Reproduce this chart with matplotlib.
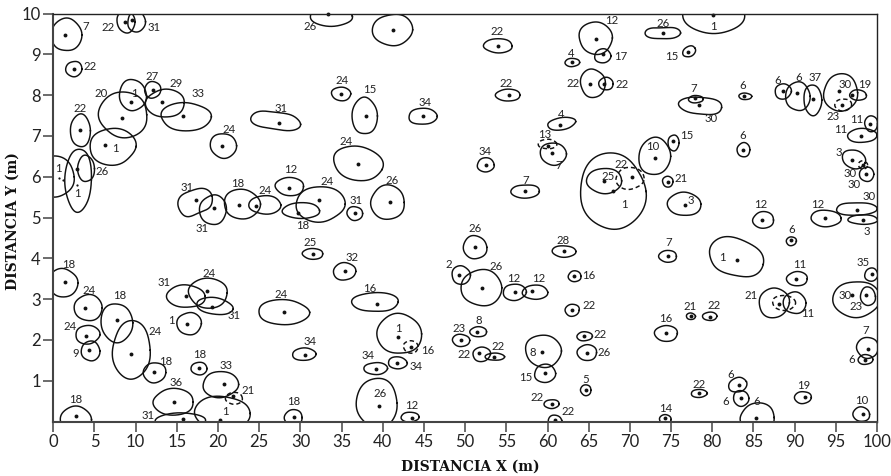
import numpy as np
import matplotlib
matplotlib.use("Agg")
import matplotlib.pyplot as plt

tree_label = ['7','22','31','22','1','20','27','29','33','22',
 '1','31','24','1','1','26','12','31','31','18',
 '24','24','18','31','26','24','15','24','34','',
 '26','22','4','22','22','22','4','13','7','34',
 '7','26','25','32','16','2','26','12','12','28',
 '16','22','1','16','34','34','34','26','12','18',
 '23','8','22','22','8','15','22','22','5','22',
 '26','18','24','24','9','18','24','18','31','24',
 '31','1','24','18','33','21','1','36','31','18',
 '12','17','26','1','15','7','30','6','6','6',
 '6','37','30','23','19','11','11','3','30','30',
 '30','3','12','12','6','3','21','10','15','1',
 '25','22','7','1','11','21','11','','35','30',
 '23','7','6','16','21','22','22','6','6','6',
 '19','10','14']
crown_x = [1.6,8.83,10.1,2.5,9.64,8.5,12.06,13.6,16.1,3.3,
 7.2,27,20.65,.2,3.04,3.97,28.7,17.2,19.4,22.9,
 25.7,32.4,30.1,36.6,40.6,37,37.8,34.95,44.86,41.2,
 33.7,54,63,55.2,65.5,67.1,61.7,60,60.7,52.5,
 57.3,51.2,31.5,35.35,39.1,49.5,52,56,58.5,62,
 63.3,63,42,43.4,30.45,39.15,41.8,39.3,43.3,29.15,
 49.5,51.6,52,53.6,59.5,59.7,60.5,60.9,64.65,64.5,
 64.8,1.2,4.25,4.17,4.53,7.7,9.5,12.3,16.1,18.8,
 19.6,16.5,27.95,17.7,20.3,21.95,20.5,14.6,15.4,2.75,
 65.85,66.7,74,80.1,77.2,78,78.6,84,83.8,88.6,
 90.4,92.2,95.6,95.9,97.7,99.3,98.2,97.2,98.3,98.75,
 97.5,98.3,93.8,86.2,89.6,76.6,74.6,73,75.3,67.9,
 66.9,70,74.6,82.9,90.3,87.5,90,88.7,99.3,97.5,
 98.9,98.85,98.6,74.4,77.4,79.7,78.4,83.1,83.5,85.5,
 91,98.1,74.3]
crown_y = [9.48,9.8,9.8,8.64,8.0,7.52,8.13,7.8,7.47,7.13,
 6.74,7.37,6.76,6.0,5.92,6.2,5.76,5.38,5.19,5.33,
 5.31,5.33,5.17,5.1,5.37,6.33,7.49,8.03,7.48,9.6,
 9.93,9.21,8.8,8.0,8.29,8.28,7.3,6.8,6.56,6.29,
 5.64,4.27,4.11,3.68,2.93,3.59,3.28,3.17,3.17,4.17,
 3.56,2.73,2.15,1.83,1.65,1.3,1.44,.45,.11,.1,
 1.99,2.2,1.65,1.59,1.73,1.18,.43,.03,.77,2.09,
 1.69,3.4,2.79,2.13,1.73,2.42,1.75,1.2,3.07,3.15,
 2.83,2.4,2.68,1.3,.91,.57,.2,.48,0,.05,
 9.4,8.96,9.52,10,9.07,7.9,7.74,7.97,6.66,8.09,
 7.97,7.88,8.06,7.76,8,7.3,7.01,6.43,6.29,6.06,
 5.21,4.95,4.98,4.94,4.42,5.33,5.88,6.5,6.83,5.64,
 5.9,5.96,4.05,4.03,3.5,2.91,2.91,2.91,3.6,3,
 3.07,1.81,1.52,2.16,2.58,2.58,.69,.9,.57,.1,
 .59,.18,.05]
crown_rx = [1.8,1.1,1.1,.97,1.6,3,1,2.3,3,1.25,
 2.8,2.95,1.6,2.4,1.6,1,1.75,2.2,1.6,2.15,
 2,3,2.2,.95,2.1,3,1.5,1.18,1.75,2.4,
 2.5,1.78,.9,1.45,1.5,.9,1.7,1.1,1.6,1.05,
 1.7,1.4,1.27,1.38,2.75,1.1,2.55,1.4,1.5,1.45,
 .8,.85,2.65,.9,1.45,1.4,1.12,2.55,1.1,1.05,
 1.05,1.05,1.05,1.15,2.2,1.3,.9,.8,.65,.95,
 1.15,1.75,1.75,1.45,1.1,1.95,2.35,1.35,2.3,2.4,
 2.25,1.45,3.05,1,2.15,1,3.4,2.5,3,1.85,
 2.05,1,2.1,3.7,.85,.9,2.55,.78,.8,.97,
 1.45,1.1,2.1,1,1,.8,1.8,1.4,.55,.9,
 2.45,1.75,1.85,1.3,.6,2,.65,1.95,.65,3.95,
 2.2,1.7,1.05,3.4,1.3,1.8,1.35,1.42,.8,2.8,
 .9,1.35,.9,1.35,.55,.9,.95,1.1,.95,2.1,
 1,1,.72]
crown_ry = [.41,.27,.25,.19,.39,.55,.2,.35,.35,.39,
 .45,.24,.3,.49,.78,.33,.22,.33,.37,.37,
 .22,.43,.2,.17,.41,.42,.46,.165,.19,.39,
 .25,.17,.1,.15,.35,.15,.15,.12,.27,.17,
 .16,.29,.13,.21,.23,.23,.43,.2,.18,.14,
 .13,.15,.5,.15,.15,.15,.15,.6,.12,.2,
 .15,.12,.18,.09,.39,.22,.11,.13,.13,.11,
 .2,.35,.31,.23,.25,.47,.7,.25,.28,.36,
 .2,.28,.31,.15,.32,.15,.42,.32,.22,.33,
 .39,.17,.16,.5,.12,.09,.22,.08,.17,.19,
 .36,.37,.45,.15,.13,.19,.17,.23,.1,.17,
 .16,.12,.2,.2,.11,.29,.13,.45,.2,.94,
 .3,.27,.15,.45,.17,.37,.27,.18,.16,.45,
 .23,.25,.12,.2,.08,.1,.1,.18,.19,.35,
 .15,.18,.12]
crown_tilt = {12:-8, 18:20, 26:-15, 81:-10, 95:30, 97:-5, 108:-20, 124:-15, 138:20, 37:8}
crown_waist = {12:.22, 18:.25, 93:.25, 29:.1, 111:.15, 97:.15, 41:.08, 124:.12, 45:.08}
crown_dashed = [38,54,86,104,109,122,128]
dot_x = [1.46,8.7,9.6,2.5,9.47,8.38,12.06,13.2,15.8,3.3,
 6.3,27.45,20.5,None,2.9,None,28.6,17.3,19.45,22.5,
 24.6,32.2,29.75,36.6,40.9,37,38,34.95,44.86,41.3,
 33.3,54,63,55.3,65.15,66.9,61.55,60,60.6,52.5,
 57.3,51.2,31.5,35.45,39.35,49.25,52,56,58.1,62,
 63.2,63,41.9,43.4,30.55,39.15,41.7,39.55,43.5,29.2,
 49.5,51.45,51.7,53.5,59.35,59.65,60.5,60.85,64.65,64.45,
 64.85,1.4,3.85,3.95,4.3,7.7,9.4,12.2,16.05,18.7,
 19.25,16.25,27.95,17.7,20.75,21.8,20.25,14.6,15.7,2.75,
 65.9,66.75,74,80.1,77.1,77.9,78.4,83.8,83.7,88.6,
 90.3,92.2,95.35,95.75,97,99.15,98.1,97,98.25,98.65,
 97.6,98.3,93.7,86.05,89.6,76.65,74.6,73,75.2,67.95,
 66.9,70.2,74.6,83,90.2,88.1,None,None,99.4,97,
 98.7,98.9,98.5,74.4,77.4,79.7,78.4,83.2,83.5,85.3,
 91.3,98.3,74.25]
dot_y = [9.48,9.79,9.83,8.64,7.84,7.45,8.13,7.84,7.49,7.15,
 6.77,7.31,6.76,None,6.19,None,5.72,5.42,5.23,5.31,
 5.29,5.42,5.12,5.1,5.39,6.31,7.48,8.03,7.48,9.6,
 9.98,9.21,8.8,8.0,8.28,8.28,7.28,6.76,6.58,6.29,
 5.64,4.27,4.11,3.68,2.88,3.6,3.28,3.17,3.19,4.17,
 3.56,2.73,2.07,1.83,1.64,1.3,1.44,.38,.1,.12,
 1.99,2.2,1.67,1.59,1.71,1.19,.43,.03,.77,2.09,
 1.69,3.41,2.79,2.1,1.75,2.5,1.65,1.22,3.07,3.2,
 2.8,2.39,2.69,1.31,.91,.62,.04,.49,.06,.13,
 9.38,9.0,9.52,9.97,9.05,7.93,7.75,7.97,6.66,8.11,
 8.04,7.91,8.11,7.76,8,7.29,6.99,6.41,6.29,6.06,
 5.19,4.93,5.0,4.95,4.45,5.3,5.88,6.46,6.87,5.66,
 5.9,5.99,4.07,3.97,3.5,2.87,None,None,3.61,3.09,
 3.1,1.78,1.52,2.17,2.58,2.56,.69,.9,.57,.09,
 .6,.18,.09]
extra_dot_x = [.65,1.2,2.83]
extra_dot_y = [5.96,5.92,5.8]
label_x = [3.97,6.6,12.2,4.5,9.8,5.8,12,14.9,17.6,3.24,
 7.5,27.6,21.3,.65,2.9,5.87,28.8,16.3,18.05,22.35,
 25.7,33.2,30.25,36.8,41.1,35.5,38.4,35.1,45.1,0,
 31.2,53.9,62.9,55,63.1,69.1,61.7,59.6,61.4,52.4,
 57.3,51.2,31.2,36.3,38.4,48,53.8,55.9,58.9,61.9,
 65,65,41.9,45.4,31.2,38.2,44,39.7,43.5,29.2,
 49.2,51.6,49.9,54,58.2,57.4,58.7,62.5,64.6,66.4,
 66.9,1.9,4.37,2.02,2.75,8,12.3,13.6,13.5,18.95,
 22,14.4,27.65,17.8,21,23.6,20.85,14.85,11.5,2.75,
 67.85,68.9,74,80.2,75.1,77.8,79.85,83.7,83.7,88,
 90.5,92.5,96.1,94.7,98.5,97.5,95.6,95.4,96.7,97.25,
 99,98.75,92.85,85.85,89.7,77.45,76.2,72.75,76.9,69.3,
 67.4,68.9,74.75,81.2,90.6,84.75,91.6,0,98.3,96.1,
 97.5,98.6,96.9,74.4,77.35,80.2,78.35,82.2,81.6,85.4,
 91.15,98.15,74.3]
label_y = [9.68,9.66,9.66,8.7,8.04,8.04,8.45,8.29,8.04,7.68,
 6.68,7.68,7.16,6.2,5.58,6.12,6.18,5.74,4.74,5.83,
 5.67,5.89,4.8,5.42,5.92,6.87,8.14,8.37,7.83,0,
 9.68,9.56,9.03,8.28,8.29,8.26,7.52,7.03,6.28,6.61,
 5.92,4.73,4.39,4.03,3.27,3.86,3.8,3.51,3.51,4.43,
 3.59,2.84,2.27,1.73,1.96,1.63,1.36,.68,.4,.49,
 2.29,2.48,1.65,1.84,1.69,1.08,.58,.24,1.02,2.13,
 1.69,3.86,3.21,2.32,1.66,3.08,2.22,1.47,3.41,3.63,
 2.6,2.48,3.12,1.65,1.37,.77,.24,.96,.16,.55,
 9.83,8.95,9.76,9.68,8.95,8.15,7.42,8.23,7.01,8.37,
 8.44,8.42,8.27,7.47,8.27,7.41,7.16,6.6,6.07,5.8,
 5.51,4.66,5.31,5.31,4.7,5.43,5.96,6.73,7.02,5.31,
 6,6.3,4.39,4.03,3.86,3.09,2.65,0,3.9,3.09,
 2.81,2.23,1.51,2.52,2.81,2.84,.92,1.15,.49,.49,
 .88,.52,.31]
x_ticks = list(range(0, 101, 5))
y_ticks = list(range(1, 11))
x_title = "DISTANCIA X (m)"
y_title = "DISTANCIA Y (m)"

W, H = 891, 476
L, R, T, B = 53.3, 877, 13.5, 421.6
fig = plt.figure(figsize=(W/100, H/100), dpi=100)
ax = fig.add_axes([L/W, 1-B/H, (R-L)/W, (B-T)/H])
ax.set_xlim(0, 100)
ax.set_ylim(0, 10)
sx, sy = (R-L)/100, (B-T)/10
t = np.linspace(0, 2*np.pi, 240)
for i in range(len(tree_label)):
    n = i+1
    a, b = crown_rx[i]*sx, crown_ry[i]*sy
    wob = 1 + .03*np.sin(2*t+n*1.7) + .022*np.sin(3*t+n*2.9) + .012*np.sin(5*t+n*.7)
    px, py = a*wob*np.cos(t), b*wob*np.sin(t)
    py = py*(1 + .1*(n in crown_waist) - crown_waist.get(n, 0)*np.sin(t)**4)
    th = np.deg2rad(crown_tilt.get(n, 0))
    rx, ry = px*np.cos(th)-py*np.sin(th), px*np.sin(th)+py*np.cos(th)
    ax.plot(crown_x[i]+rx/sx, crown_y[i]+ry/sy, color='#111111', lw=1.05,
            ls=(0, (3, 2)) if n in crown_dashed else '-')
    if dot_x[i] is not None:
        ax.plot(dot_x[i], dot_y[i], 'o', color='#111111', ms=2.8, mew=0, clip_on=False)
    if tree_label[i]:
        ax.text(label_x[i], label_y[i], tree_label[i], ha='center', va='center',
                fontsize=8.2, family='Lato', color='#222222')
ax.plot(extra_dot_x, extra_dot_y, 'o', color='#111111', ms=1.6, mew=0)

ax.set_xticks(x_ticks)
ax.set_yticks(y_ticks)
ax.tick_params(length=7, width=1.1, color='#444444', labelsize=12, labelcolor='#222222', pad=2)
for lab in ax.get_xticklabels()+ax.get_yticklabels():
    lab.set_family('Lato')
for s in ['left', 'bottom']:
    ax.spines[s].set_linewidth(1.5)
    ax.spines[s].set_color('#444444')
for s in ['top', 'right']:
    ax.spines[s].set_linewidth(1.0)
    ax.spines[s].set_color('#222222')
fig.text(470/W, 1-467/H, x_title, ha='center', va='center', family='DejaVu Serif',
         fontweight='bold', fontsize=10, color='#111111')
fig.text(13/W, 1-221/H, y_title, ha='center', va='center', rotation=90, family='DejaVu Serif',
         fontweight='bold', fontsize=10, color='#111111')
fig.savefig('out.png', dpi=100)
